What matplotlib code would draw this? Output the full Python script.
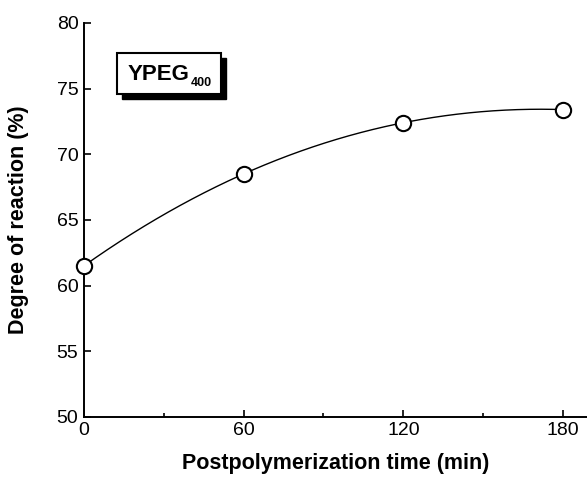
import numpy as np
import matplotlib
matplotlib.use('Agg')
import matplotlib.pyplot as plt
from matplotlib.patches import Rectangle
from matplotlib.transforms import offset_copy

plt.rcParams['font.family'] = ['Liberation Sans', 'DejaVu Sans']

# data
tiempo = [0, 60, 120, 180]
grado = [61.5, 68.5, 72.4, 73.4]
xticks = [0, 60, 120, 180]
yticks = [50, 55, 60, 65, 70, 75, 80]
etiqueta = 'YPEG'
subindice = '400'

fig = plt.figure(figsize=(5.87, 4.78), dpi=100)
ax = fig.add_axes([0.143, 0.128, 0.857, 0.824])

# smooth curve through the points (cubic polynomial)
coef = np.polyfit(tiempo, grado, 3)
xs = np.linspace(min(tiempo), max(tiempo), 200)
ax.plot(xs, np.polyval(coef, xs), color='black', lw=1.0, zorder=2)
ax.plot(tiempo, grado, 'o', ms=11, mfc='white', mec='black', mew=1.5,
        zorder=3, clip_on=False)

ax.set_xlim(0, 189)
ax.set_ylim(50, 80)
ax.set_xticks(xticks)
ax.set_xticks([30, 90, 150], minor=True)
ax.set_yticks(yticks)

for s in ['top', 'right']:
    ax.spines[s].set_visible(False)
for s in ['left', 'bottom']:
    ax.spines[s].set_linewidth(1.4)

ax.tick_params(direction='in', length=5, width=1.2, labelsize=14, pad=4)
ax.tick_params(which='minor', direction='in', length=3, width=1.2)

ax.set_xlabel('Postpolymerization time (min)', fontsize=15.5, fontweight='bold',
              labelpad=10)
ax.set_ylabel('Degree of reaction (%)', fontsize=15.5, fontweight='bold',
              labelpad=20)

# label box with shadow
bx, by, bw, bh = 0.0656, 0.820, 0.207, 0.104
sombra = offset_copy(ax.transAxes, fig=fig, x=5, y=-5, units='dots')
ax.add_patch(Rectangle((bx, by), bw, bh, transform=sombra, facecolor='black',
                       edgecolor='black', zorder=4, clip_on=False))
ax.add_patch(Rectangle((bx, by), bw, bh, transform=ax.transAxes,
                       facecolor='white', edgecolor='black', lw=1.5,
                       zorder=5, clip_on=False))
t = ax.text(bx + 0.083, by + bh / 2 - 0.003, etiqueta, transform=ax.transAxes,
            ha='center', va='center', fontsize=16, fontweight='bold', zorder=6)
ax.annotate(subindice, xy=(1, 0), xycoords=t, xytext=(1, -3),
            textcoords='offset points', ha='left', va='bottom',
            fontsize=9, fontweight='bold', zorder=6)

fig.savefig('out.png', dpi=100)
